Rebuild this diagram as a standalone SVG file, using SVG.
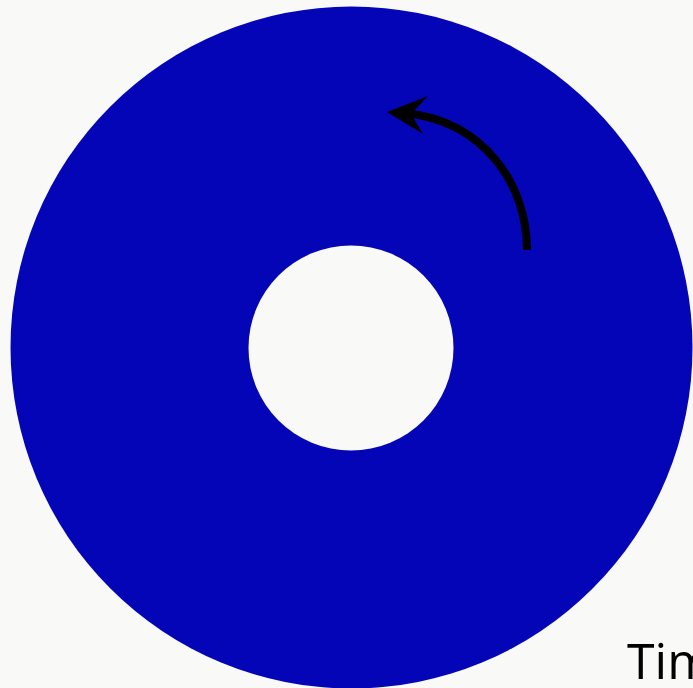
<svg xmlns="http://www.w3.org/2000/svg" width="693" height="688" viewBox="0 0 693 688">
<style>
.disc{fill:#0505b8}
.hole{fill:#f9f9f8}
.arc{fill:none;stroke:#000;stroke-width:8}
.lbl{font-family:"Open Sans","DejaVu Sans",sans-serif;font-size:50px;fill:#000}
</style>
<rect width="693" height="688" fill="#f9f9f8"/>
<g id="disc">
<circle class="disc" cx="351.5" cy="347.5" r="341"/>
<circle class="hole" cx="351" cy="348" r="102.5"/>
</g>
<g id="connectors">
<path class="arc" d="M527,250 C527,185 485,122 406,113"/>
<polygon points="387,112 428,96 411,114 423,134" fill="#000"/>
</g>
<text class="lbl" x="627" y="679">Tim</text>
</svg>
